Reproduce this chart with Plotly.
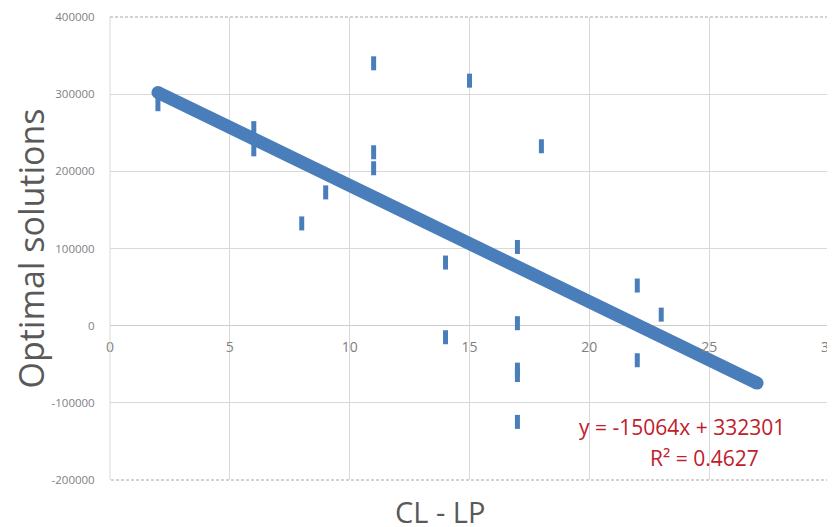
import plotly.graph_objects as go

# Data
cl_lp = [2, 6, 6, 8, 9, 11, 11, 11, 14, 14, 15, 17, 17, 17, 17, 17, 18, 22, 22, 23]
optimal = [287000, 256000, 228500, 132500, 172700, 340000, 224700, 204000, 81800, -15000,
           317500, 102000, 3200, -57000, -64000, -124700, 232500, 52000, -44800, 14300]

trend_slope = -15064
trend_intercept = 332301
trend_r2 = 0.4627
trend_x = [2, 27]
trend_y = [trend_slope * v + trend_intercept for v in trend_x]

x_ticks = [0, 5, 10, 15, 20, 25, 30]
y_ticks = [-200000, -100000, 0, 100000, 200000, 300000, 400000]

blue = "#4A7EBB"
grey_text = "#7F7F7F"
title_grey = "#595959"
grid = "#D9D9D9"
red = "#C0202A"

# page body has an 8px margin: size the figure so the plot area lands where the reference has it
W, H = 827, 519
L, T = 102, 9
PW, PH = 719, 463

fig = go.Figure()

fig.add_trace(go.Scatter(
    x=cl_lp, y=optimal, mode="markers",
    marker=dict(symbol="line-ns", size=10, color=blue,
                line=dict(color=blue, width=5)),
    showlegend=False, hoverinfo="x+y",
))

fig.add_trace(go.Scatter(
    x=trend_x, y=trend_y, mode="lines+markers",
    line=dict(color=blue, width=13),
    marker=dict(symbol="circle", size=13, color=blue),
    showlegend=False, hoverinfo="skip",
))

fig.update_layout(
    width=W, height=H,
    margin=dict(l=L, r=W - L - PW, t=T, b=H - T - PH, autoexpand=False),
    paper_bgcolor="white", plot_bgcolor="white",
    font=dict(family="Open Sans, Noto Sans, sans-serif", color=grey_text),
    xaxis=dict(
        range=[0, 30], tickvals=x_ticks, ticktext=[str(v) for v in x_ticks],
        showgrid=True, gridcolor=grid, gridwidth=1,
        zeroline=False, showline=False,
        anchor="free", position=1/3,
        ticks="outside", ticklen=9, tickcolor="rgba(0,0,0,0)",
        tickfont=dict(size=14, color=grey_text),
        ticklabeloverflow="allow",
    ),
    yaxis=dict(
        range=[-200000, 400000], tickvals=y_ticks, ticktext=[str(v) for v in y_ticks],
        showgrid=True, gridcolor=grid, gridwidth=1,
        zeroline=True, zerolinecolor="#CFCFCF", zerolinewidth=1,
        showline=False,
        ticks="outside", ticklen=12, tickcolor="rgba(0,0,0,0)",
        tickfont=dict(size=11.5, color=grey_text),
    ),
)

# plot-area border: solid left edge, fine dashed top/right/bottom
fig.add_shape(type="line", xref="paper", yref="paper", x0=0, y0=0, x1=0, y1=1,
              line=dict(color=grid, width=1))
for x0, y0, x1, y1 in [(0, 1, 1, 1), (1, 1, 1, 0), (1, 0, 0, 0)]:
    fig.add_shape(type="line", xref="paper", yref="paper", x0=x0, y0=y0, x1=x1, y1=y1,
                  line=dict(color="#A6A6A6", width=1, dash="3px,2px"))

# axis titles
fig.add_annotation(text="Optimal solutions", xref="paper", yref="paper",
                   x=(30 - 110) / PW, y=0.5, textangle=-90, showarrow=False,
                   xanchor="center", yanchor="middle",
                   font=dict(size=34, color=title_grey))
fig.add_annotation(text="CL - LP", xref="paper", yref="paper", x=(440 - 110) / PW, y=0,
                   yshift=-31, showarrow=False, xanchor="center", yanchor="middle",
                   font=dict(size=29, color=title_grey))

# trendline equation
fig.add_annotation(text="y = %dx + %d" % (trend_slope, trend_intercept),
                   xref="paper", yref="paper", x=(577 - 110) / PW, y=(480 - 427) / PH,
                   showarrow=False, xanchor="left", yanchor="middle",
                   font=dict(size=21, color=red))
fig.add_annotation(text="R² = %.4f" % trend_r2,
                   xref="paper", yref="paper", x=(648 - 110) / PW, y=(480 - 458) / PH,
                   showarrow=False, xanchor="left", yanchor="middle",
                   font=dict(size=21, color=red))

fig.write_html("out.html")
